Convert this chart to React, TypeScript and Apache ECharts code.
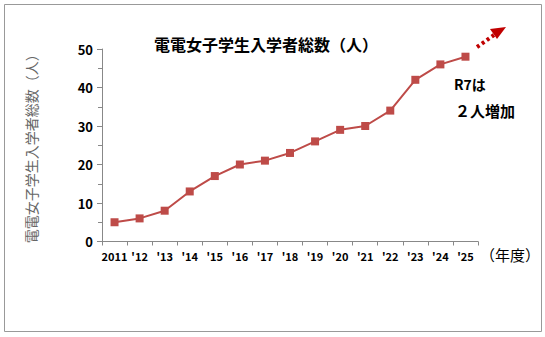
import React, { useEffect, useRef } from "react";
import * as echarts from "echarts";

const categories = ["2011", "'12", "'13", "'14", "'15", "'16", "'17", "'18", "'19", "'20", "'21", "'22", "'23", "'24", "'25"];
const students = [5, 6, 8, 13, 17, 20, 21, 23, 26, 29, 30, 34, 42, 46, 48];
const titleText = "電電女子学生入学者総数（人）";
const yName = "電電女子学生入学者総数（人）";
const xName = "（年度）";
const note1 = "R7は";
const note2 = "２人増加";

const FONT = '"Noto Sans CJK JP", "Noto Sans", sans-serif';

export default function App() {
  const ref = useRef<HTMLDivElement>(null);
  useEffect(() => {
    document.body.style.margin = "0";
    const chart = echarts.init(ref.current!, null, { renderer: "svg" });
    chart.setOption({
      animation: false,
      backgroundColor: "#fff",
      textStyle: { fontFamily: FONT },
      title: {
        text: titleText,
        left: 261,
        top: 31,
        textAlign: "center",
        textStyle: { fontSize: 16, fontWeight: "bold", color: "#000", fontFamily: FONT },
      },
      grid: { left: 102, right: 67, top: 49, bottom: 95.5 },
      xAxis: {
        type: "category",
        data: categories,
        boundaryGap: true,
        axisLine: { lineStyle: { color: "#888", width: 1 } },
        axisTick: { show: true, length: 4, alignWithLabel: false, lineStyle: { color: "#888" } },
        axisLabel: { color: "#000", fontSize: 11, fontWeight: "bold", margin: 9, interval: 0, fontFamily: FONT },
        name: xName,
        nameLocation: "end",
        nameGap: 2,
        nameTextStyle: { fontSize: 15, color: "#000", verticalAlign: "top", padding: [5, 0, 0, 0], fontFamily: FONT },
      },
      yAxis: {
        type: "value",
        min: 0,
        max: 50,
        interval: 10,
        splitLine: { show: false },
        axisLine: { show: true, lineStyle: { color: "#888", width: 1 } },
        axisTick: { show: true, length: 5, lineStyle: { color: "#888" } },
        minorTick: { show: true, splitNumber: 2, length: 4, lineStyle: { color: "#888" } },
        axisLabel: { color: "#000", fontSize: 13, fontWeight: "bold", margin: 9, fontFamily: FONT },
        name: yName,
        nameLocation: "middle",
        nameRotate: 90,
        nameGap: 64,
        nameTextStyle: { fontSize: 14, color: "#666", fontFamily: FONT },
      },
      series: [
        {
          type: "line",
          data: students,
          symbol: "rect",
          symbolSize: 8,
          itemStyle: { color: "#BE4B48" },
          lineStyle: { color: "#BE4B48", width: 2 },
        },
      ],
      graphic: [
        {
          type: "rect",
          shape: { x: 4.5, y: 4.5, width: 537, height: 327 },
          style: { fill: "none", stroke: "#999", lineWidth: 1 },
          silent: true,
        },
        {
          type: "line",
          shape: { x1: 477, y1: 47, x2: 494, y2: 35 },
          style: { stroke: "#C00000", lineWidth: 4, lineDash: [3, 3] },
        },
        {
          type: "polygon",
          shape: { points: [[506, 27], [490, 29], [497, 39]] },
          style: { fill: "#C00000" },
        },
        {
          type: "text",
          left: 454,
          top: 77,
          style: { text: note1, fill: "#000", font: `bold 14px ${FONT}` },
        },
        {
          type: "text",
          left: 455,
          top: 103,
          style: { text: note2, fill: "#000", font: `bold 15px ${FONT}` },
        },
      ],
    });
    return () => chart.dispose();
  }, []);
  return <div ref={ref} style={{ width: 545, height: 337 }} />;
}
